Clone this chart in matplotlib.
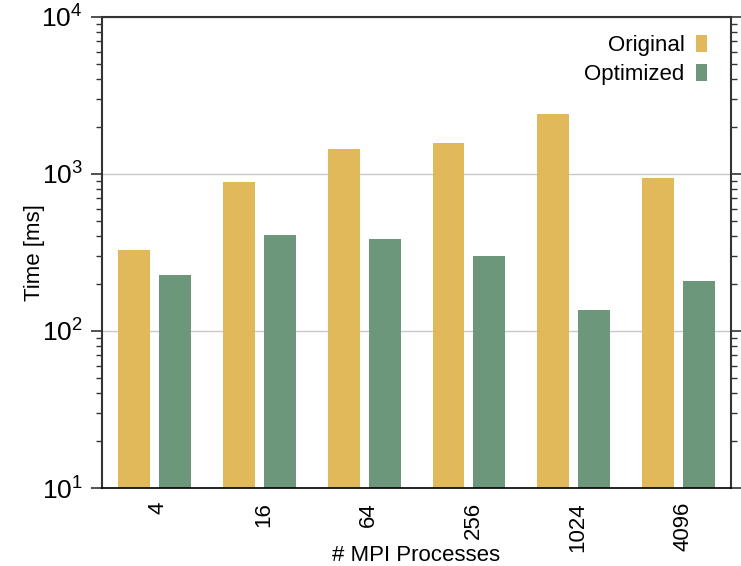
import numpy as np
from matplotlib import pyplot as plt
from matplotlib.ticker import LogLocator, NullFormatter
from matplotlib.transforms import ScaledTranslation

# data
procs = ['4', '16', '64', '256', '1024', '4096']
original = [328, 889, 1442, 1574, 2410, 944]
optimized = [227, 408, 385, 301, 136, 208]

plt.rcParams['font.family'] = ['Liberation Sans', 'DejaVu Sans']
plt.rcParams['mathtext.fontset'] = 'custom'
plt.rcParams['mathtext.rm'] = 'Liberation Sans'
plt.rcParams['mathtext.it'] = 'Liberation Sans:italic'

c_orig = '#E1B95A'
c_opt = '#6C977A'

fig = plt.figure(figsize=(7.41, 5.66), dpi=100)
ax = fig.add_axes([0.1377, 0.1378, 0.9865 - 0.1377, 0.97 - 0.1378])

x = np.arange(len(procs))
w = 0.305
ax.bar(x - 0.195, original, w, color=c_orig, label='Original', zorder=2)
ax.bar(x + 0.195, optimized, w, color=c_opt, label='Optimized', zorder=2)

ax.set_yscale('log')
ax.set_ylim(10, 1e4)
ax.set_xlim(-0.5, 5.5)
ax.yaxis.set_major_locator(LogLocator(base=10, numticks=10))
ax.yaxis.set_minor_locator(LogLocator(base=10, subs=np.arange(2, 10), numticks=10))
ax.yaxis.set_minor_formatter(NullFormatter())
ax.grid(axis='y', which='major', color='#c8c8c8', linewidth=1, zorder=0)

ax.set_xticks(x)
ax.set_xticklabels(procs, rotation=90)
ax.tick_params(axis='x', length=0, labelsize=16, pad=10)
shift = ScaledTranslation(4 / 100, 0, fig.dpi_scale_trans)
for lbl in ax.get_xticklabels():
    lbl.set_transform(lbl.get_transform() + shift)
ax.tick_params(axis='y', which='major', length=8, width=1.2, labelsize=19,
               right=True, color='#333333', pad=6)
ax.tick_params(axis='y', which='minor', length=4, width=1, right=True, color='#333333')

for s in ['left', 'top', 'right']:
    ax.spines[s].set_color('#333333')
    ax.spines[s].set_linewidth(1.5)
ax.spines['bottom'].set_linewidth(1.2)

ax.set_xlabel('# MPI Processes', fontsize=16)
ax.xaxis.set_label_coords(0.5, -0.122)
ax.set_ylabel('Time [ms]', fontsize=16)
ax.yaxis.set_label_coords(-0.107, 0.5)
ax.yaxis.label.set_va('center')

ax.legend(loc='upper right', bbox_to_anchor=(0.99, 1.0), frameon=False,
          markerfirst=False, fontsize=16,
          handlelength=0.5, handleheight=0.8, handletextpad=0.5,
          labelspacing=0.35, borderaxespad=0.4)

plt.savefig('out.png', dpi=100)
